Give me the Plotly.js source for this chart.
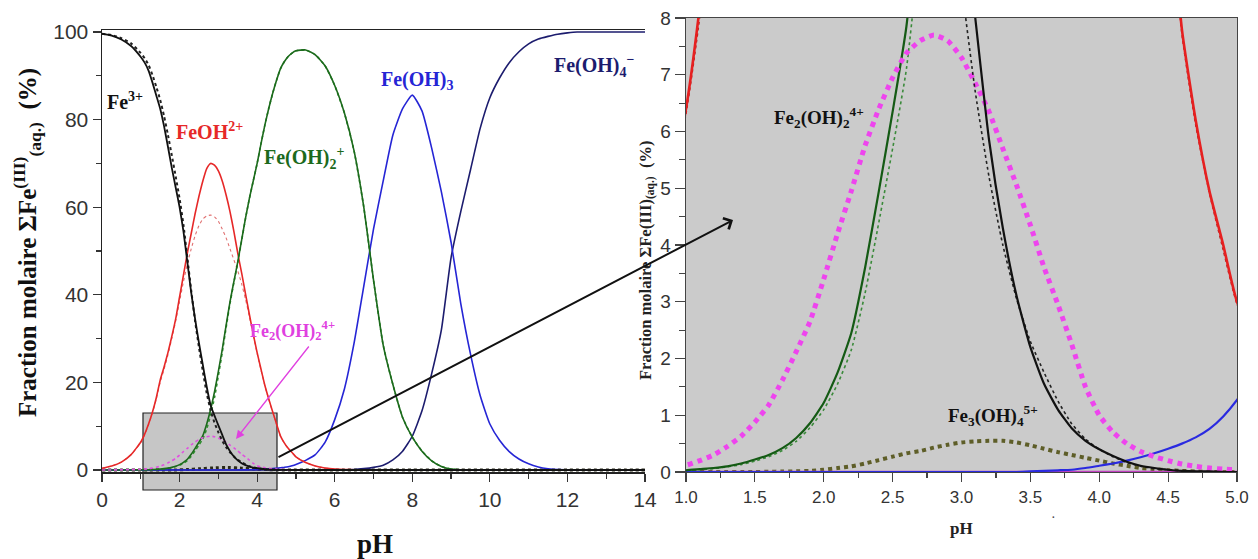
<!DOCTYPE html>
<html><head><meta charset="utf-8">
<script src="https://cdn.plot.ly/plotly-3.0.1.min.js"></script>
<style>html,body{margin:0;padding:0;background:#fff}#chart{width:1258px;height:559px}</style>
</head><body><div id="chart"></div>
<script>
// ---------- DATA ----------
const pH = [0,0.25,0.5,0.75,
  1.0,1.1,1.2,1.3,1.4,1.5,1.6,1.7,1.8,1.9,
  2.0,2.1,2.2,2.3,2.4,2.5,2.6,2.7,2.8,2.9,
  3.0,3.1,3.2,3.3,3.4,3.5,3.6,3.7,3.8,3.9,
  4.0,4.1,4.2,4.3,4.4,4.5,4.6,4.7,4.8,4.9,
  5.0,
  5.25,5.5,5.75,6.0,6.25,6.5,6.75,7.0,7.25,7.5,7.75,8.0,8.25,8.5,8.75,9.0,9.25,9.5,9.75,10.0,
  10.25,10.5,10.75,11.0,11.25,11.5,11.75,12.0,12.25,12.5,12.75,13.0,13.25,13.5,13.75,14.0];

// Fe3+ (solid)
const fe3 = [99.6,99.2,98.3,96.8,
  94.3,93.0,91.2,88.5,85.5,82.5,78.5,73.8,69.0,64.5,
  60.0,54.5,47.5,40.5,34.5,29.0,24.0,19.0,14.8,12.4,
  10.2,8.0,5.85,4.3,3.1,2.2,1.55,1.1,0.77,0.55,
  0.4,0.28,0.18,0.11,0.07,0.04,0.02,0.01,0.01,0,
  0,
  0,0,0,0,0,0,0,0,0,0,0,0,0,0,0,0,0,0,0,0,
  0,0,0,0,0,0,0,0,0,0,0,0,0,0,0,0];
// Fe3+ (second calculation, dotted)
const fe3Alt = [99.6,99.3,98.6,97.4,
  95.2,94.0,92.5,90.2,87.5,84.5,80.8,76.5,71.8,67.0,
  62.0,56.0,48.5,41.0,34.0,28.0,22.5,17.5,13.6,10.8,
  8.6,6.7,5.2,4.0,3.05,2.3,1.75,1.25,0.85,0.58,
  0.4,0.27,0.17,0.1,0.06,0.04,0.02,0.01,0,0,
  0,
  0,0,0,0,0,0,0,0,0,0,0,0,0,0,0,0,0,0,0,0,
  0,0,0,0,0,0,0,0,0,0,0,0,0,0,0,0];
// FeOH2+ (solid)
const feOH = [0.4,0.9,1.8,3.5,
  6.4,8.2,10.5,13.2,16.5,20.5,23.5,26.8,30.5,34.5,
  39.5,44.5,49.5,54.0,58.5,62.5,66.0,68.8,70.0,69.6,
  68.3,66.0,62.8,59.0,54.5,49.5,45.0,40.2,35.5,31.0,
  26.8,23.0,19.3,16.2,13.3,10.5,7.8,6.2,4.95,4.0,
  3.0,
  1.7,0.9,0.45,0.2,0.1,0.05,0.02,0,0,0,0,0,0,0,0,0,0,0,0,0,
  0,0,0,0,0,0,0,0,0,0,0,0,0,0,0,0];
// FeOH2+ (second calculation, dotted)
const feOHAlt = [0.4,0.9,1.8,3.5,
  6.3,8.0,10.3,13.0,16.2,20.0,23.0,26.3,30.0,34.0,
  38.5,43.0,47.0,50.5,53.5,55.8,57.3,58.0,58.2,57.8,
  56.8,55.0,53.0,50.5,48.0,45.5,42.5,39.0,35.0,30.8,
  26.6,22.8,19.2,16.1,13.2,10.4,7.7,6.1,4.9,3.9,
  2.95,
  1.7,0.9,0.45,0.2,0.1,0.05,0.02,0,0,0,0,0,0,0,0,0,0,0,0,0,
  0,0,0,0,0,0,0,0,0,0,0,0,0,0,0,0];
// Fe(OH)2+ (solid)
const feOH2 = [0,0.002,0.005,0.01,
  0.03,0.05,0.07,0.1,0.15,0.22,0.3,0.42,0.6,0.86,
  1.22,1.75,2.45,3.6,4.95,6.35,7.85,10.5,13.8,17.8,
  22.5,27.5,33.0,38.4,43.0,47.5,52.5,57.5,62.0,66.0,
  70.0,74.5,78.8,82.6,86.0,89.0,91.6,93.2,94.4,95.2,
  95.7,
  95.9,94.8,92.3,87.8,81.5,72.8,60.0,43.4,28.5,19.5,12.0,7.5,4.3,2.1,0.8,0.2,0.05,0,0,0,
  0,0,0,0,0,0,0,0,0,0,0,0,0,0,0,0];
// Fe(OH)2+ (second calculation, dotted)
const feOH2Alt = [0,0.002,0.005,0.01,
  0.03,0.04,0.06,0.09,0.13,0.19,0.27,0.38,0.54,0.78,
  1.1,1.55,2.15,3.15,4.4,5.7,7.1,9.4,12.6,16.5,
  21.5,26.8,32.5,38.0,42.8,47.3,52.4,57.4,62.0,66.0,
  70.0,74.5,78.8,82.6,86.0,89.0,91.6,93.2,94.4,95.2,
  95.7,
  95.9,94.8,92.3,87.8,81.5,72.8,60.0,43.4,28.5,19.5,12.0,7.5,4.3,2.1,0.8,0.2,0.05,0,0,0,
  0,0,0,0,0,0,0,0,0,0,0,0,0,0,0,0];
// Fe(OH)3
const feOH3 = [0,0,0,0,
  0,0,0,0,0,0,0,0,0,0,
  0,0,0,0,0,0,0,0,0,0,
  0,0,0,0,0,0.01,0.02,0.03,0.04,0.07,
  0.11,0.15,0.2,0.26,0.33,0.41,0.5,0.61,0.76,0.98,
  1.27,
  2.2,3.5,6.3,11.5,18.5,29.0,42.0,55.0,66.0,76.5,82.5,85.6,82.0,73.5,63.5,52.0,38.0,26.5,17.0,10.5,
  6.8,4.2,2.5,1.4,0.7,0.3,0.1,0.05,0,0,0,0,0,0,0,0];
// Fe(OH)4-
const feOH4 = [0,0,0,0,
  0,0,0,0,0,0,0,0,0,0,
  0,0,0,0,0,0,0,0,0,0,
  0,0,0,0,0,0,0,0,0,0,
  0,0,0,0,0,0,0,0,0,0,
  0,
  0,0,0,0,0.05,0.1,0.3,0.6,1.1,2.3,4.3,7.7,13.5,22.0,32.0,48.5,59.0,68.5,78.0,85.0,
  89.5,93.0,95.5,97.3,98.4,99.0,99.5,99.8,100,100,100,100,100,100,100,100];
// Fe2(OH)2 4+
const fe2OH2 = [0,0.01,0.03,0.07,
  0.12,0.2,0.3,0.45,0.63,0.88,1.18,1.62,2.12,2.65,
  3.4,4.2,4.95,5.75,6.4,6.95,7.38,7.6,7.7,7.6,
  7.3,6.85,6.35,5.7,5.05,4.35,3.6,2.95,2.25,1.5,
  1.0,0.7,0.5,0.36,0.27,0.2,0.14,0.1,0.07,0.05,
  0.04,
  0.02,0.01,0,0,0,0,0,0,0,0,0,0,0,0,0,0,0,0,0,0,
  0,0,0,0,0,0,0,0,0,0,0,0,0,0,0,0];
// Fe3(OH)4 5+
const fe3OH4 = [0,0,0,0,
  0,0,0,0,0,0,0.005,0.008,0.012,0.02,
  0.04,0.07,0.1,0.15,0.21,0.27,0.33,0.37,0.43,0.48,
  0.52,0.54,0.55,0.55,0.52,0.47,0.41,0.35,0.3,0.25,
  0.2,0.15,0.11,0.07,0.05,0.03,0.02,0.01,0,0,
  0,
  0,0,0,0,0,0,0,0,0,0,0,0,0,0,0,0,0,0,0,0,
  0,0,0,0,0,0,0,0,0,0,0,0,0,0,0,0];

const leftTicks = [0,2,4,6,8,10,12,14];
const rightTicks = [1.0,1.5,2.0,2.5,3.0,3.5,4.0,4.5,5.0];

// sanity check of lengths
[fe3,fe3Alt,feOH,feOHAlt,feOH2,feOH2Alt,feOH3,feOH4,fe2OH2,fe3OH4].forEach((a,i)=>{
  if(a.length!==pH.length) throw new Error('series '+i+' length '+a.length+' != '+pH.length);
});

// ---------- DRAWING ----------
const W = 1258, H = 559;
const px = v => v / W, py = v => (H - v) / H;
const serif = 'Liberation Serif, Times New Roman, serif';
const sans = 'Liberation Sans, Arial, sans-serif';

const series = [
  // values, left style, right style
  {y: fe3OH4,  L:{color:'#2a2a18', width:3, dash:'dot'},   R:{color:'#5e5e28', width:4, dash:'dot'}},
  {y: feOH4,   L:{color:'#1c1c6e', width:1.6},             R:{color:'#c040c0', width:2.5}},
  {y: feOH3,   L:{color:'#2525d5', width:1.6},             R:{color:'#2a2ae0', width:2.2}},
  {y: feOHAlt, L:{color:'#e07070', width:1.1, dash:'dot'}, R:{color:'#b02020', width:1.2, dash:'dot'}},
  {y: feOH,    L:{color:'#e62828', width:1.6},             R:{color:'#e62020', width:2.6}},
  {y: feOH2Alt,L:{color:'#2f8f2f', width:1.6, dash:'dot'}, R:{color:'#3a8a3a', width:1.6, dash:'dot'}},
  {y: feOH2,   L:{color:'#1c6a1c', width:1.6},             R:{color:'#145a14', width:2.2}},
  {y: fe2OH2,  L:{color:'#e050e0', width:1.6, dash:'dot'}, R:{color:'#ee44ee', width:5, dash:'dot'}},
  {y: fe3Alt,  L:{color:'#222222', width:2, dash:'dot'},   R:{color:'#222222', width:1.6, dash:'dot'}},
  {y: fe3,     L:{color:'#111111', width:1.8},             R:{color:'#111111', width:2.2}},
];
const traces = [];
series.forEach(s => {
  traces.push({x:pH, y:s.y, xaxis:'x', yaxis:'y', type:'scatter', mode:'lines',
    line:Object.assign({shape:'spline', smoothing:0.5}, s.L), hoverinfo:'skip'});
});
series.forEach(s => {
  traces.push({x:pH, y:s.y, xaxis:'x2', yaxis:'y2', type:'scatter', mode:'lines',
    line:Object.assign({shape:'spline', smoothing:0.5}, s.R), hoverinfo:'skip'});
});

const tf = (size) => ({family: sans, size: size, color: '#333'});
const label = (text, x, y, color, size, xanchor) => ({
  text: text, xref:'paper', yref:'paper', x: px(x), y: py(y), showarrow:false,
  xanchor: xanchor || 'center', yanchor:'middle',
  font:{family: serif, size: size, color: color, weight: 'bold'}
});

const layout = {
  width: W, height: H, margin:{l:0,r:0,t:0,b:0},
  paper_bgcolor:'#ffffff', plot_bgcolor:'rgba(0,0,0,0)', showlegend:false,
  xaxis:{domain:[px(102), px(645)], range:[0,14], tickvals:leftTicks, ticks:'outside', ticklen:8, tickwidth:1.2,
    tickcolor:'#333', showline:true, mirror:true, linecolor:'#222', linewidth:1.5, showgrid:false, zeroline:false,
    minor:{dtick:1, tick0:0, ticks:'outside', ticklen:5, tickcolor:'#333', showgrid:false},
    tickfont:tf(21), anchor:'y'},
  yaxis:{domain:[(H-472)/H, (H-30)/H], range:[-0.46,100.46], tick0:0, dtick:20, ticks:'outside', ticklen:8, tickwidth:1.2,
    tickcolor:'#333', showline:true, mirror:false, linecolor:'#222', linewidth:1.5, showgrid:false, zeroline:false,
    minor:{dtick:10, tick0:0, ticks:'outside', ticklen:5, tickcolor:'#333', showgrid:false},
    tickfont:tf(21), anchor:'x'},
  xaxis2:{domain:[px(686), px(1237)], range:[1,5], tickvals:rightTicks, tickformat:'.1f', ticks:'outside', ticklen:9, tickwidth:1.2,
    tickcolor:'#444', showline:true, mirror:true, linecolor:'#444', linewidth:1.3, showgrid:false, zeroline:false,
    minor:{dtick:0.25, tick0:1, ticks:'outside', ticklen:5, tickcolor:'#444', showgrid:false},
    tickfont:tf(17), anchor:'y2'},
  yaxis2:{domain:[(H-472)/H, (H-18)/H], range:[0,8], tick0:0, dtick:1, ticks:'outside', ticklen:10, tickwidth:1.2,
    tickcolor:'#444', showline:true, mirror:true, linecolor:'#444', linewidth:1.3, showgrid:false, zeroline:false,
    minor:{dtick:0.5, tick0:0, ticks:'outside', ticklen:6, tickcolor:'#444', showgrid:false},
    tickfont:tf(19), anchor:'x2'},
  shapes:[
    {type:'rect', xref:'paper', yref:'paper', x0:px(686), x1:px(1237), y0:py(472), y1:py(18),
      fillcolor:'#cbcbcb', line:{width:0}, layer:'below'},
    {type:'rect', xref:'paper', yref:'paper', x0:px(143), x1:px(277), y0:py(490), y1:py(413),
      fillcolor:'#c6c6c6', line:{color:'#222', width:1.2}, layer:'below'}
  ],
  annotations:[
    // axis titles
    {text:'Fraction molaire ΣFe<sup>(III)</sup><sub>(aq.)</sub>  (%)', textangle:-90, xref:'paper', yref:'paper',
      x:px(27), y:py(243), showarrow:false, xanchor:'center', yanchor:'middle',
      font:{family:serif, size:25, color:'#111', weight:'bold'}},
    {text:'pH', xref:'paper', yref:'paper', x:px(375), y:py(544), showarrow:false, xanchor:'center', yanchor:'middle',
      font:{family:serif, size:27, color:'#111', weight:'bold'}},
    {text:'Fraction molaire ΣFe(III)<sub>(aq.)</sub>  (%)', textangle:-90, xref:'paper', yref:'paper',
      x:px(646), y:py(261), showarrow:false, xanchor:'center', yanchor:'middle',
      font:{family:serif, size:16.5, color:'#222', weight:'bold'}},
    {text:'pH', xref:'paper', yref:'paper', x:px(961), y:py(528), showarrow:false, xanchor:'center', yanchor:'middle',
      font:{family:serif, size:17, color:'#222', weight:'bold'}},
    {text:'·', xref:'paper', yref:'paper', x:px(1058), y:py(527), showarrow:false,
      font:{family:serif, size:14, color:'#444'}},
    // species labels, left
    label('Fe<sup>3+</sup>', 105, 101, '#111', 20, 'left'),
    label('FeOH<sup>2+</sup>', 209, 131, '#e62828', 20),
    label('Fe(OH)<sub>2</sub><sup>+</sup>', 262, 158, '#1c6a1c', 20, 'left'),
    label('Fe(OH)<sub>3</sub>', 417, 80, '#2525d5', 20),
    label('Fe(OH)<sub>4</sub><sup>−</sup>', 594, 66, '#1c1c6e', 20),
    label('Fe<sub>2</sub>(OH)<sub>2</sub><sup>4+</sup>', 292, 330, '#e040e0', 18),
    // species labels, right
    label('Fe<sub>2</sub>(OH)<sub>2</sub><sup>4+</sup>', 819, 117, '#111', 19),
    label('Fe<sub>3</sub>(OH)<sub>4</sub><sup>5+</sup>', 993, 415, '#111', 19),
    // arrows
    {text:'', xref:'paper', yref:'paper', x:px(733), y:py(220), ax:277-733, ay:458-220,
      showarrow:true, arrowhead:4, arrowsize:1.2, arrowwidth:2, arrowcolor:'#111', standoff:0, startstandoff:0},
    {text:'', xref:'paper', yref:'paper', x:px(236), y:py(439), ax:310-236, ay:345-439,
      showarrow:true, arrowhead:2, arrowsize:1.3, arrowwidth:1.3, arrowcolor:'#e040e0', standoff:0}
  ]
};

Plotly.newPlot('chart', traces, layout, {staticPlot:true, displayModeBar:false});
</script>
</body></html>
